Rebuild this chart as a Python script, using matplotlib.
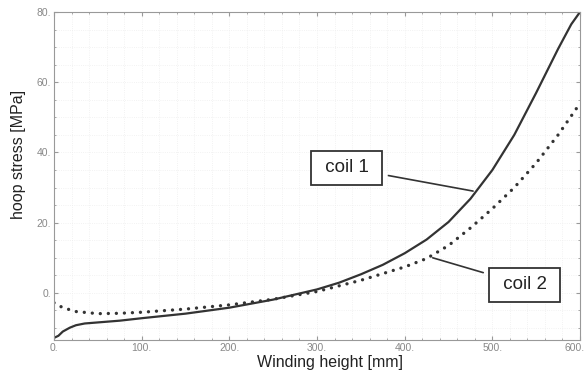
from matplotlib import pyplot as plt
from matplotlib.ticker import MultipleLocator
from matplotlib.transforms import ScaledTranslation
import numpy as np

# values
height_coil1 = [0, 5, 10, 18, 25, 35, 50, 75, 100, 150, 200, 250, 300, 325,
                350, 375, 400, 425, 450, 475, 500, 525, 550, 575, 590, 600]
stress_coil1 = [-12.8, -12.2, -11.0, -9.9, -9.2, -8.7, -8.4, -7.9, -7.2, -5.9,
                -4.2, -1.9, 1.0, 2.9, 5.3, 8.0, 11.3, 15.2, 20.2, 26.8, 35.0,
                45.0, 57.0, 69.5, 76.5, 80.0]

height_coil2 = [0, 10, 25, 50, 75, 100, 150, 200, 250, 300, 350, 400, 425,
                450, 475, 500, 525, 550, 575, 600]
stress_coil2 = [-2.8, -4.2, -5.3, -5.9, -5.8, -5.5, -4.6, -3.4, -1.8, 0.4,
                3.6, 7.4, 9.8, 13.5, 18.5, 24.0, 30.0, 37.0, 45.0, 54.0]

x_ticks = [0, 100, 200, 300, 400, 500, 600]
y_ticks = [0, 20, 40, 60, 80]

plt.rcParams['font.family'] = ['Liberation Sans', 'DejaVu Sans']

fig = plt.figure(figsize=(5.86, 3.71), dpi=100)
ax = fig.add_axes([0.0922, 0.0836, 0.8976, 0.8841])

ax.plot(height_coil1, stress_coil1, color='#333333', lw=1.6)
ax.plot(height_coil2, stress_coil2, color='#333333', lw=2.4,
        linestyle=(0, (0.01, 2.4)), dash_capstyle='round')

ax.set_xlim(0, 600)
ax.set_ylim(-13.4, 80)
ax.set_xticks(x_ticks)
ax.set_xticklabels(['{}.'.format(v) for v in x_ticks])
ax.set_yticks(y_ticks)
ax.set_yticklabels(['{}.'.format(v) for v in y_ticks])
ax.xaxis.set_minor_locator(MultipleLocator(20))
ax.yaxis.set_minor_locator(MultipleLocator(5))
ax.tick_params(which='both', direction='in', top=True, right=True,
               colors='#999999', labelcolor='#888888', labelsize=7.5, pad=2)
ax.tick_params(which='major', length=3)
ax.tick_params(which='minor', length=1.5)
for s in ax.spines.values():
    s.set_color('#999999')
    s.set_linewidth(0.8)

# last x label sits right at the figure edge, nudge it in a little
last = ax.get_xticklabels()[-1]
last.set_transform(last.get_transform() +
                   ScaledTranslation(-5 / 100, 0, fig.dpi_scale_trans))

ax.grid(True, which='both', color='#eeeeee', linestyle=':', linewidth=0.6)
ax.set_axisbelow(True)

ax.set_xlabel('Winding height [mm]', fontsize=11.5, color='#222222')
ax.set_ylabel('hoop stress [MPa]', fontsize=11.5, color='#222222')
ax.xaxis.set_label_coords(0.525, -0.045)
ax.yaxis.set_label_coords(-0.053, 0.567)

box = dict(boxstyle='square,pad=0.45', fc='white', ec='#333333', lw=1.3)
ax.annotate(' coil 1 ', xy=(478, 29.0), xytext=(334, 35.6), fontsize=13.5,
            ha='center', va='center', bbox=box, color='#222222',
            arrowprops=dict(arrowstyle='-', color='#333333', lw=1.2,
                            shrinkA=4, shrinkB=0))
ax.annotate(' coil 2 ', xy=(432, 10.0), xytext=(537, 2.3), fontsize=13.5,
            ha='center', va='center', bbox=box, color='#222222',
            arrowprops=dict(arrowstyle='-', color='#333333', lw=1.2,
                            shrinkA=4, shrinkB=0))

plt.savefig('out.png', dpi=100)
